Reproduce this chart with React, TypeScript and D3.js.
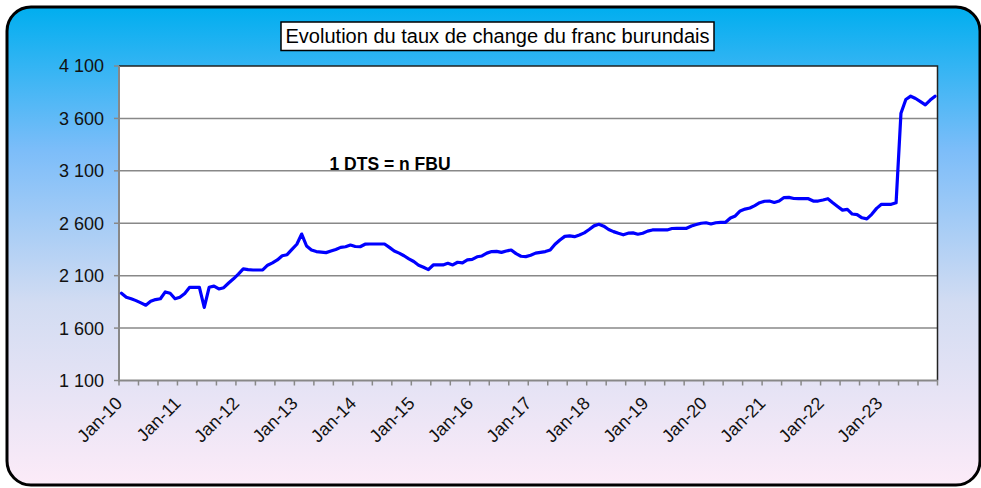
import React from 'react';
import * as d3 from 'd3';

// monthly rate, BIF per SDR
const rates2010 = [1932, 1894, 1880, 1862, 1840, 1818, 1855, 1872, 1880, 1945, 1932, 1880];
const rates2011 = [1894, 1930, 1989, 1989, 1989, 1798, 1989, 2000, 1973, 1985, 2030, 2070];
const rates2012 = [2115, 2165, 2158, 2154, 2154, 2156, 2200, 2222, 2250, 2290, 2300, 2350];
const rates2013 = [2400, 2497, 2383, 2345, 2330, 2325, 2320, 2335, 2350, 2370, 2376, 2392];
const rates2014 = [2378, 2376, 2400, 2402, 2402, 2402, 2402, 2370, 2335, 2315, 2290, 2260];
const rates2015 = [2235, 2200, 2180, 2158, 2202, 2202, 2202, 2218, 2202, 2228, 2222, 2250];
const rates2016 = [2256, 2280, 2288, 2315, 2330, 2332, 2322, 2335, 2345, 2310, 2285, 2282];
const rates2017 = [2295, 2315, 2322, 2330, 2345, 2400, 2440, 2475, 2480, 2472, 2488, 2508];
const rates2018 = [2540, 2575, 2590, 2572, 2540, 2520, 2504, 2490, 2505, 2508, 2495, 2505];
const rates2019 = [2525, 2536, 2536, 2536, 2536, 2550, 2552, 2552, 2552, 2574, 2588, 2600];
const rates2020 = [2605, 2593, 2605, 2609, 2609, 2650, 2670, 2717, 2735, 2745, 2768, 2796];
const rates2021 = [2810, 2812, 2798, 2812, 2845, 2847, 2836, 2834, 2834, 2834, 2812, 2812];
const rates2022 = [2822, 2834, 2796, 2760, 2725, 2733, 2688, 2683, 2652, 2642, 2685, 2742];
const rates2023 = [2781, 2781, 2781, 2795, 3650, 3780, 3812, 3790, 3760, 3730, 3775, 3812];

const yearLabels = ['Jan-10', 'Jan-11', 'Jan-12', 'Jan-13', 'Jan-14', 'Jan-15', 'Jan-16',
  'Jan-17', 'Jan-18', 'Jan-19', 'Jan-20', 'Jan-21', 'Jan-22', 'Jan-23'];
const yTicks = [1100, 1600, 2100, 2600, 3100, 3600, 4100];

const title = 'Evolution du taux de change du franc burundais';
const note = '1 DTS = n FBU';

const rates = [
  rates2010, rates2011, rates2012, rates2013, rates2014, rates2015, rates2016,
  rates2017, rates2018, rates2019, rates2020, rates2021, rates2022, rates2023,
].flat();

const W = 981;
const H = 488;
const plot = { left: 119, right: 937.5, top: 66, bottom: 380.5 };
const font = '"Liberation Sans", Arial, sans-serif';

const fmt = d3.formatLocale({ decimal: ',', thousands: ' ', grouping: [3], currency: ['', ''] }).format(',');

const App = () => {
  const x = d3.scalePoint<number>()
    .domain(d3.range(rates.length))
    .range([plot.left, plot.right])
    .padding(0.5);
  const y = d3.scaleLinear().domain([1100, 4100]).range([plot.bottom, plot.top]);
  const step = x.step();

  const line = d3.line<number>()
    .x((d, i) => x(i) as number)
    .y(d => y(d));

  // tick marks every 4 months, on category boundaries
  const tickXs = d3.range(0, rates.length + 1, 4).map(i => plot.left + i * step);

  return (
    <svg width={W} height={H} style={{ position: 'absolute', left: 0, top: 0, display: 'block' }}>
      <defs>
        <linearGradient id="bg" x1="0" y1="0" x2="0" y2="1">
          <stop offset="0" stopColor="#00aeef" />
          <stop offset="0.3" stopColor="#7cbdf9" />
          <stop offset="0.62" stopColor="#d2dcf2" />
          <stop offset="1" stopColor="#fcebf8" />
        </linearGradient>
      </defs>
      <rect x={0} y={0} width={W} height={H} fill="#fff" />
      <rect x={7} y={7} width={973} height={478} rx={24} ry={24}
        fill="url(#bg)" stroke="#000" strokeWidth={3} />

      {/* plot area */}
      <rect x={plot.left} y={plot.top} width={plot.right - plot.left} height={plot.bottom - plot.top}
        fill="#fff" />
      {yTicks.slice(1, -1).map(t => (
        <line key={t} x1={plot.left} x2={plot.right} y1={y(t)} y2={y(t)}
          stroke="#888" strokeWidth={1.5} />
      ))}
      <path d={`M${plot.left},${plot.top}H${plot.right}V${plot.bottom}`} fill="none"
        stroke="#222" strokeWidth={1.5} />
      <line x1={plot.left} x2={plot.left} y1={plot.top} y2={plot.bottom + 1} stroke="#888" strokeWidth={2} />
      <line x1={plot.left} x2={plot.right} y1={plot.bottom} y2={plot.bottom} stroke="#888" strokeWidth={2} />

      {/* y axis */}
      {yTicks.map(t => (
        <g key={t}>
          <line x1={plot.left - 5} x2={plot.left} y1={y(t)} y2={y(t)} stroke="#888" strokeWidth={1.5} />
          <text x={104} y={y(t)} dy="0.36em" textAnchor="end" fontFamily={font} fontSize={18}
            fill="#111">{fmt(t)}</text>
        </g>
      ))}

      {/* x axis */}
      {tickXs.map((tx, i) => (
        <line key={i} x1={tx} x2={tx} y1={plot.bottom} y2={plot.bottom + 5} stroke="#888" strokeWidth={1.5} />
      ))}
      {yearLabels.map((lab, k) => {
        const cx = x(k * 12) as number;
        return (
          <text key={lab} transform={`translate(${cx + 2},${plot.bottom + 24}) rotate(-45)`}
            textAnchor="end" fontFamily={font} fontSize={18} fill="#111">{lab}</text>
        );
      })}

      {/* series */}
      <path d={line(rates) ?? ''} fill="none" stroke="#0000ff" strokeWidth={3.2}
        strokeLinejoin="round" strokeLinecap="round" />

      <text x={390} y={170} textAnchor="middle" fontFamily={font} fontSize={17.5} fontWeight="bold"
        fill="#000">{note}</text>

      {/* title */}
      <rect x={281} y={22} width={433} height={28.5} fill="#fff" stroke="#000" strokeWidth={1.5} />
      <text x={497.5} y={43} textAnchor="middle" fontFamily={font} fontSize={19.5} fill="#000"
        textLength={424} lengthAdjust="spacingAndGlyphs">{title}</text>
    </svg>
  );
};

export default App;
